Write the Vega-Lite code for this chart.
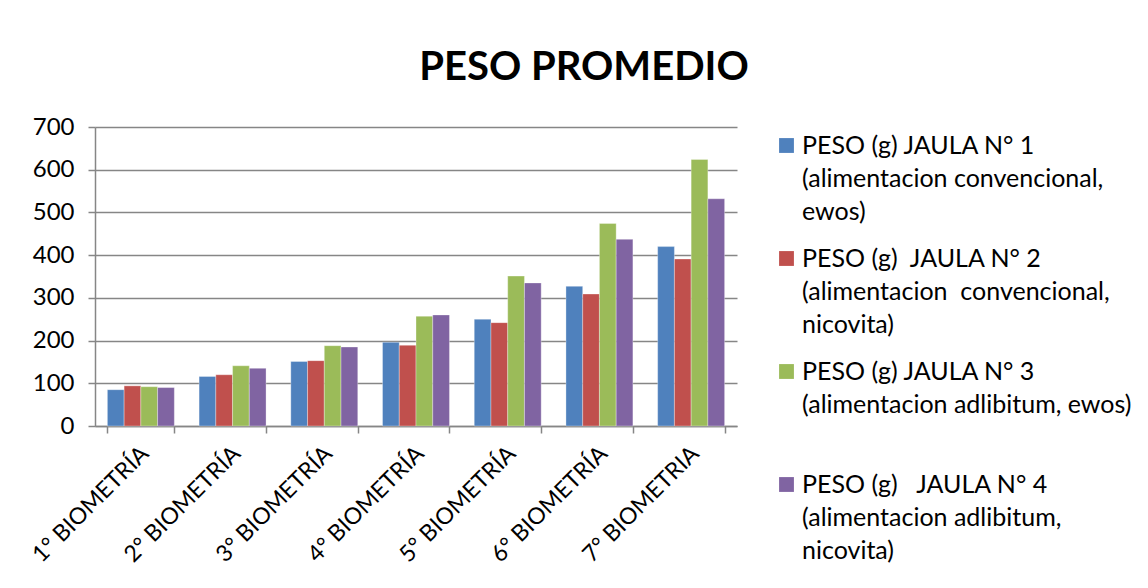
{
  "$schema": "https://vega.github.io/schema/vega-lite/v6.json",
  "width": 642,
  "height": 299,
  "autosize": {"type": "none"},
  "padding": {"left": 95, "top": 127, "right": 411, "bottom": 162},
  "background": "white",
  "title": {
    "text": "PESO PROMEDIO",
    "font": "Lato",
    "fontSize": 40,
    "fontWeight": "bold",
    "color": "#000000",
    "anchor": "middle",
    "dx": 168,
    "offset": 27
  },
  "data": {
    "values": [
      {"biometria": "1° BIOMETRÍA", "jaula": "J1", "peso": 85},
      {"biometria": "1° BIOMETRÍA", "jaula": "J2", "peso": 94},
      {"biometria": "1° BIOMETRÍA", "jaula": "J3", "peso": 92},
      {"biometria": "1° BIOMETRÍA", "jaula": "J4", "peso": 90},
      {"biometria": "2° BIOMETRÍA", "jaula": "J1", "peso": 116},
      {"biometria": "2° BIOMETRÍA", "jaula": "J2", "peso": 120},
      {"biometria": "2° BIOMETRÍA", "jaula": "J3", "peso": 141},
      {"biometria": "2° BIOMETRÍA", "jaula": "J4", "peso": 135},
      {"biometria": "3° BIOMETRÍA", "jaula": "J1", "peso": 151},
      {"biometria": "3° BIOMETRÍA", "jaula": "J2", "peso": 153},
      {"biometria": "3° BIOMETRÍA", "jaula": "J3", "peso": 188},
      {"biometria": "3° BIOMETRÍA", "jaula": "J4", "peso": 185},
      {"biometria": "4° BIOMETRÍA", "jaula": "J1", "peso": 196},
      {"biometria": "4° BIOMETRÍA", "jaula": "J2", "peso": 189},
      {"biometria": "4° BIOMETRÍA", "jaula": "J3", "peso": 257},
      {"biometria": "4° BIOMETRÍA", "jaula": "J4", "peso": 260},
      {"biometria": "5° BIOMETRÍA", "jaula": "J1", "peso": 250},
      {"biometria": "5° BIOMETRÍA", "jaula": "J2", "peso": 242},
      {"biometria": "5° BIOMETRÍA", "jaula": "J3", "peso": 351},
      {"biometria": "5° BIOMETRÍA", "jaula": "J4", "peso": 335},
      {"biometria": "6° BIOMETRÍA", "jaula": "J1", "peso": 327},
      {"biometria": "6° BIOMETRÍA", "jaula": "J2", "peso": 309},
      {"biometria": "6° BIOMETRÍA", "jaula": "J3", "peso": 474},
      {"biometria": "6° BIOMETRÍA", "jaula": "J4", "peso": 437},
      {"biometria": "7° BIOMETRIA", "jaula": "J1", "peso": 420},
      {"biometria": "7° BIOMETRIA", "jaula": "J2", "peso": 391},
      {"biometria": "7° BIOMETRIA", "jaula": "J3", "peso": 624},
      {"biometria": "7° BIOMETRIA", "jaula": "J4", "peso": 532}
    ]
  },
  "mark": {"type": "bar", "stroke": "white", "strokeOpacity": 0.4, "strokeWidth": 0.8},
  "encoding": {
    "x": {
      "field": "biometria",
      "type": "nominal",
      "sort": null,
      "title": null,
      "scale": {"paddingInner": 0.27, "paddingOuter": 0.135},
      "axis": {
        "labelAngle": -45,
        "labelAlign": "right",
        "labelBaseline": "top",
        "labelPadding": 9,
        "labelOffset": -4,
        "labelFont": "Lato",
        "labelFontSize": 23,
        "labelColor": "#000000",
        "tickBand": "extent",
        "tickSize": 7,
        "tickColor": "#868686",
        "tickWidth": 1.5,
        "domainColor": "#868686",
        "domainWidth": 1.5,
        "grid": false
      }
    },
    "y": {
      "field": "peso",
      "type": "quantitative",
      "title": null,
      "scale": {"domain": [0, 700], "nice": false},
      "axis": {
        "values": [0, 100, 200, 300, 400, 500, 600, 700],
        "labelFont": "Lato",
        "labelFontSize": 24,
        "labelColor": "#000000",
        "labelPadding": 14,
        "tickSize": 7,
        "tickColor": "#868686",
        "tickWidth": 1.5,
        "domainColor": "#868686",
        "domainWidth": 1.5,
        "gridColor": "#868686",
        "gridWidth": 1.5
      }
    },
    "xOffset": {"field": "jaula", "type": "nominal", "sort": ["J1", "J2", "J3", "J4"]},
    "color": {
      "field": "jaula",
      "type": "nominal",
      "scale": {
        "domain": ["J1", "J2", "J3", "J4"],
        "range": ["#4F81BD", "#C0504D", "#9BBB59", "#8064A2"]
      },
      "legend": {
        "title": null,
        "orient": "none",
        "legendX": 679,
        "legendY": 6,
        "symbolType": "square",
        "symbolSize": 220,
        "symbolStrokeWidth": 0,
        "symbolOpacity": 1,
        "labelFont": "Lato",
        "labelFontSize": 25,
        "labelColor": "#000000",
        "labelLimit": 420,
        "labelOffset": 3,
        "labelBaseline": "middle",
        "rowPadding": 21,
        "labelExpr": "datum.value == 'J1' ? ['PESO (g) JAULA N° 1', '(alimentacion convencional,', 'ewos)'] : datum.value == 'J2' ? ['PESO (g)\u00a0 JAULA N° 2', '(alimentacion\u00a0 convencional,', 'nicovita)'] : datum.value == 'J3' ? ['PESO (g) JAULA N° 3', '(alimentacion adlibitum, ewos)', '\u00a0'] : ['PESO (g)\u00a0\u00a0 JAULA N° 4', '(alimentacion adlibitum,', 'nicovita)']"
      }
    }
  },
  "config": {
    "view": {"stroke": null},
    "style": {"guide-label": {"lineHeight": 33}}
  }
}
